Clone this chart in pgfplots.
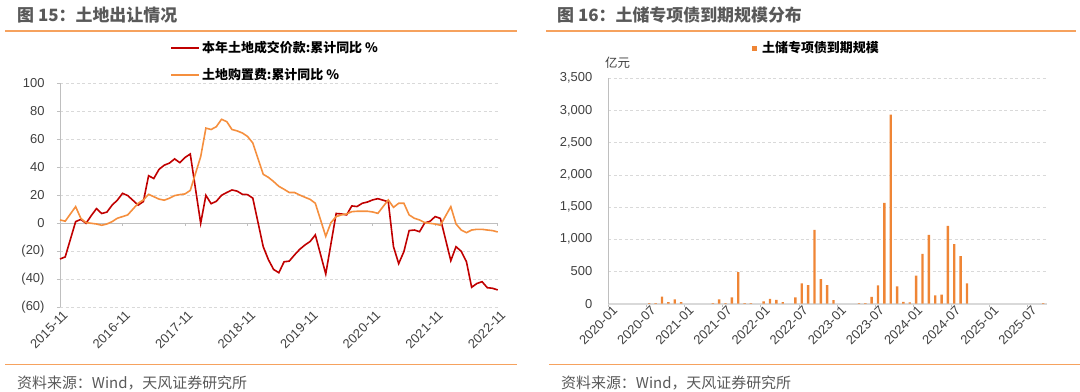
\documentclass[border=0pt]{standalone}
\usepackage{pgfplots}
\pgfplotsset{compat=1.18}
\usepackage{fontspec}
\setmainfont{Liberation Sans}
\newfontfamily\cjk{Noto Sans CJK SC}
\definecolor{tfred}{HTML}{C00000}
\definecolor{tforange}{HTML}{F58F3E}
\definecolor{tfbar}{HTML}{EF8535}
\definecolor{tfrule}{HTML}{F6A25E}
\definecolor{tfgrid}{HTML}{D9D9D9}
\definecolor{tfaxis}{HTML}{BFBFBF}
\definecolor{tftext}{HTML}{404040}
\definecolor{tftitle}{HTML}{595959}
\begin{document}
\begin{tikzpicture}
\useasboundingbox (0bp,0bp) rectangle (1080bp,-392bp);
% separators
\draw[tfrule, line width=1.5bp] (5bp,-31bp) -- (517bp,-31bp);
\draw[tfrule, line width=1.5bp] (546bp,-31bp) -- (1076bp,-31bp);
\draw[tfrule, line width=1.5bp] (5bp,-364.5bp) -- (517bp,-364.5bp);
\draw[tfrule, line width=1.5bp] (549bp,-364.5bp) -- (1080bp,-364.5bp);
% titles
\node[anchor=west, inner sep=0, text=tftitle, font=\cjk\bfseries\fontsize{17}{20}\selectfont] at (17bp,-15bp) {图 15：土地出让情况};
\node[anchor=west, inner sep=0, text=tftitle, font=\cjk\bfseries\fontsize{17}{20}\selectfont] at (557bp,-15bp) {图 16：土储专项债到期规模分布};
% sources
\node[anchor=west, inner sep=0, text=tftitle, font=\cjk\fontsize{15}{18}\selectfont] at (17bp,-383bp) {资料来源：Wind，天风证券研究所};
\node[anchor=west, inner sep=0, text=tftitle, font=\cjk\fontsize{15}{18}\selectfont] at (561bp,-383bp) {资料来源：Wind，天风证券研究所};
% left legend
\draw[tfred, line width=1.6bp] (171bp,-48bp) -- (199bp,-48bp);
\node[anchor=west, inner sep=0, font=\cjk\bfseries\fontsize{13}{15}\selectfont] at (202bp,-48bp) {本年土地成交价款:累计同比 \%};
\draw[tforange, line width=1.6bp] (171bp,-75bp) -- (199bp,-75bp);
\node[anchor=west, inner sep=0, font=\cjk\bfseries\fontsize{13}{15}\selectfont] at (202bp,-75bp) {土地购置费:累计同比 \%};
% right legend
\fill[tfbar] (752bp,-45.5bp) rectangle (757bp,-50.5bp);
\node[anchor=west, inner sep=0, font=\cjk\bfseries\fontsize{13}{15}\selectfont] at (762bp,-48bp) {土储专项债到期规模};
\node[anchor=west, inner sep=0, text=tftext, font=\cjk\fontsize{12.5}{15}\selectfont] at (605bp,-63bp) {亿元};

\begin{axis}[
  at={(60bp,-307.3bp)}, anchor=south west, scale only axis,
  width=437.7bp, height=224bp,
  xmin=0, xmax=84, ymin=-60, ymax=100,
  axis y line*=left, axis x line*=bottom,
  x axis line style={draw=none},
  y axis line style={tfaxis, line width=0.8bp},
  xtick={0,12,...,84},
  xticklabels={2015-11,2016-11,2017-11,2018-11,2019-11,2020-11,2021-11,2022-11},
  ytick={-60,-40,...,100},
  yticklabels={(60),(40),(20),0,20,40,60,80,100},
  ymajorgrids, grid style={tfgrid, dash pattern=on 3bp off 2.5bp, line width=0.6bp},
  xtick style={draw=none},
  ytick style={tfaxis, line width=0.6bp},
  tick align=outside, major tick length=3bp,
  tick label style={font=\fontsize{13}{15}\selectfont, text=tftext},
  xticklabel style={rotate=45, anchor=north east, inner sep=1bp, xshift=3bp},
  yticklabel style={xshift=-9bp},
  clip=false,
]
\draw[tfaxis, line width=0.8bp] (axis cs:0,0) -- (axis cs:84,0);
\pgfplotsinvokeforeach{12,24,36,48,60,72,84}{\draw[tfaxis, line width=0.6bp] (axis cs:#1,0) -- (axis cs:#1,-2.2);}
\addplot[tfred, line width=1.6bp] coordinates {
(0,-25.5)(1,-24)(3,1.2)(4,2.8)(5,0)(6,5.5)(7,10.5)(8,7)(9,8)(10,13)(11,16.5)(12,21.4)(13,19.8)(15,13)(16,15.5)(17,34)(18,32)(19,38.5)(20,41.5)(21,43)(22,46)(23,43.3)(24,47)(25,49.5)(27,0)(28,20)(29,14)(30,15.7)(31,20)(32,22)(33,23.8)(34,23)(35,20.7)(36,20.5)(37,18)(39,-16.7)(40,-26)(41,-33)(42,-35.3)(43,-27.5)(44,-27)(45,-22.6)(46,-18.6)(47,-15.5)(48,-13)(49,-8.3)(51,-36.2)(53,7)(54,6.7)(55,6)(56,12.4)(57,12)(58,14.3)(59,15.2)(60,16.7)(61,17.6)(63,15.4)(64,-16.7)(65,-28.8)(66,-20.2)(67,-5.2)(68,-4.8)(69,-6)(70,0.3)(71,1.4)(72,4.8)(73,3.5)(75,-26.7)(76,-16.7)(77,-20)(78,-27.4)(79,-45.7)(80,-43)(81,-41.7)(82,-46)(83,-46.4)(84,-47.6)
};
\addplot[tforange, line width=1.6bp] coordinates {
(0,2.4)(1,1.5)(3,11.9)(4,3.5)(5,0.5)(6,0)(7,-0.5)(8,-1.4)(9,-0.5)(10,1.2)(11,3.6)(12,4.8)(13,6)(15,14.3)(16,16.7)(17,20.7)(18,19)(19,17.3)(20,16.5)(21,17.9)(22,19.8)(23,20.5)(24,21)(25,23.5)(27,47.6)(28,68)(29,67)(30,69)(31,74.3)(32,72.6)(33,67)(34,66)(35,64.5)(36,62)(37,57.4)(39,35)(40,32.8)(41,29.8)(42,26.4)(43,24.3)(44,22)(45,22)(46,20.2)(47,18.6)(48,17.1)(49,14.3)(51,-9.3)(52,0.5)(53,4.8)(54,6)(55,6.7)(56,8.3)(57,8.6)(58,8.6)(59,8.6)(60,8.1)(61,7.1)(63,16.7)(64,11.4)(65,14.3)(66,14.3)(67,6)(68,3.6)(69,2.4)(70,0.5)(71,0)(72,-0.5)(73,-1.4)(75,11.9)(76,-0.5)(77,-4.8)(78,-6.7)(79,-4.8)(80,-4.3)(81,-4.3)(82,-4.8)(83,-5.2)(84,-6.2)
};
\end{axis}

\begin{axis}[
  at={(608.3bp,-303.7bp)}, anchor=south west, scale only axis,
  width=438.4bp, height=225.4bp,
  xmin=0, xmax=69, ymin=0, ymax=3500,
  axis y line*=left, axis x line*=bottom,
  x axis line style={tfgrid, line width=1.6bp},
  y axis line style={tfaxis, line width=0.8bp},
  xtick={0,6,...,66},
  xticklabels={2020-01,2020-07,2021-01,2021-07,2022-01,2022-07,2023-01,2023-07,2024-01,2024-07,2025-01,2025-07},
  ytick={0,500,...,3500},
  yticklabels={0,500,{1,000},{1,500},{2,000},{2,500},{3,000},{3,500}},
  ymajorgrids, grid style={tfgrid, dash pattern=on 3bp off 2.5bp, line width=0.6bp},
  xtick style={tfaxis, line width=0.6bp},
  ytick style={draw=none},
  tick align=outside, major tick length=3.5bp,
  tick label style={font=\fontsize{13}{15}\selectfont, text=tftext},
  xticklabel style={rotate=45, anchor=north east, inner sep=1bp, xshift=5bp},
  yticklabel style={xshift=-9bp},
  clip=false,
]
\addplot[ybar, bar width=2.4bp, fill=tfbar, draw=none] coordinates {
(6.45,10)(7.45,10)(8.45,110)(9.45,25)(10.45,68)(11.45,25)
(16.45,8)(17.45,68)(18.45,10)(19.45,100)(20.45,492)(21.45,8)(22.45,8)
(24.45,35)(25.45,75)(26.45,60)(27.45,25)(29.45,100)(30.45,317)(31.45,290)(32.45,1145)(33.45,383)(34.45,290)(35.45,55)
(39.45,8)(40.45,8)(41.45,105)(42.45,285)(43.45,1564)(44.45,2935)(45.45,270)(46.45,30)(47.45,20)
(48.45,435)(49.45,772)(50.45,1067)(51.45,130)(52.45,140)(53.45,1207)(54.45,927)(55.45,740)(56.45,317)
(68.45,8)
};
\end{axis}
\end{tikzpicture}
\end{document}
